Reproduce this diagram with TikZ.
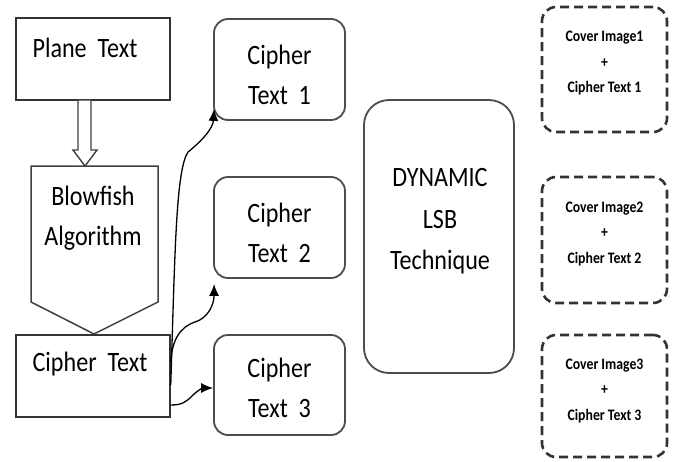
\documentclass[tikz,border=0pt]{standalone}
\usepackage{fontspec}
\setmainfont{Carlito}[FakeStretch=0.86]
\usetikzlibrary{arrows.meta}

\begin{document}
\begin{tikzpicture}[x=1pt,y=-1pt,
  plainbox/.style={draw=black!80,line width=1.5pt,inner sep=0pt},
  roundbox/.style={draw=black!70,line width=1.8pt,rounded corners=14pt,inner sep=0pt},
  coverbox/.style={draw=black!80,line width=2.6pt,dash pattern=on 9pt off 5pt,
    rounded corners=14pt,inner sep=0pt,minimum width=125pt},
  bigtxt/.style={align=center,inner sep=0pt,font=\fontsize{28}{40}\selectfont},
  smalltxt/.style={align=center,inner sep=0pt,font=\fontsize{16}{25.5}\selectfont\bfseries},
  flow/.style={-{Latex[length=12pt,width=10pt]},line width=1.3pt}]
  \useasboundingbox (0,0) rectangle (678,461);

  % left column
  \node[plainbox,minimum width=154pt,minimum height=82pt] (plain) at (93,59) {};
  \node[bigtxt,anchor=base] (plaintxt) at (85,57) {Plane\ \ Text};

  \draw[line width=1.4pt,draw=black!75,fill=white] (78,100) -- (91,100) -- (91,150)
    -- (97,150) -- (85,166) -- (73,150) -- (78,150) -- cycle;

  \draw[draw=black!75,line width=1.5pt] (31,166) -- (158,166) -- (158,302)
    -- (94,334) -- (31,302) -- cycle;
  \node[bigtxt] (blowfish) at (93,218) {Blowfish\\Algorithm};

  \node[plainbox,fill=white,minimum width=154pt,minimum height=82pt] (ct) at (93,376) {};
  \node[bigtxt,anchor=base] (cttxt) at (90,371) {Cipher\ \ Text};

  % cipher texts
  \node[roundbox,minimum width=131pt,minimum height=101pt] (ct1) at (279.5,69.5) {};
  \node[bigtxt] (ct1txt) at (279.5,75) {Cipher\\Text\ \ 1};
  \node[roundbox,minimum width=131pt,minimum height=101pt] (ct2) at (279.5,227.5) {};
  \node[bigtxt] (ct2txt) at (279.5,232.5) {Cipher\\Text\ \ 2};
  \node[roundbox,minimum width=131pt,minimum height=100pt] (ct3) at (279.5,385) {};
  \node[bigtxt] (ct3txt) at (279.5,388) {Cipher\\Text\ \ 3};

  \draw[flow] ([yshift=-9pt]ct.east) .. controls (175,250) and (176,170) .. (188,152)
    .. controls (203,140) and (213,128) .. ([shift={(1pt,12pt)}]ct1.south west);
  \draw[flow] ([yshift=14pt]ct.east) .. controls (172,340) and (180,327) .. (195,322)
    .. controls (208,318) and (214,305) .. ([shift={(1pt,-5pt)}]ct2.south west);
  \draw[flow] ([yshift=-29pt]ct.east) .. controls (182,405) and (186,402) .. (192,396)
    .. controls (198,390) and (203,388) .. ([yshift=-3pt]ct3.west);

  % embedding
  \node[roundbox,rounded corners=25pt,minimum width=150pt,minimum height=273pt] (lsb) at (439,236.5) {};
  \node[bigtxt,font=\fontsize{28}{41.5}\selectfont] (lsbtxt) at (440,221.5) {DYNAMIC\\LSB\\Technique};

  % stego outputs
  \node[coverbox,minimum height=125pt] (cov1) at (604.5,69.5) {};
  \node[smalltxt] (cov1txt) at (604.5,63.5) {Cover Image1\\+\\Cipher Text 1};
  \node[coverbox,minimum height=126pt] (cov2) at (604.5,240) {};
  \node[smalltxt] (cov2txt) at (604.5,234) {Cover Image2\\+\\Cipher Text 2};
  \node[coverbox,minimum height=122pt] (cov3) at (604.5,396) {};
  \node[smalltxt] (cov3txt) at (604.5,391) {Cover Image3\\+\\Cipher Text 3};
\end{tikzpicture}
\end{document}
